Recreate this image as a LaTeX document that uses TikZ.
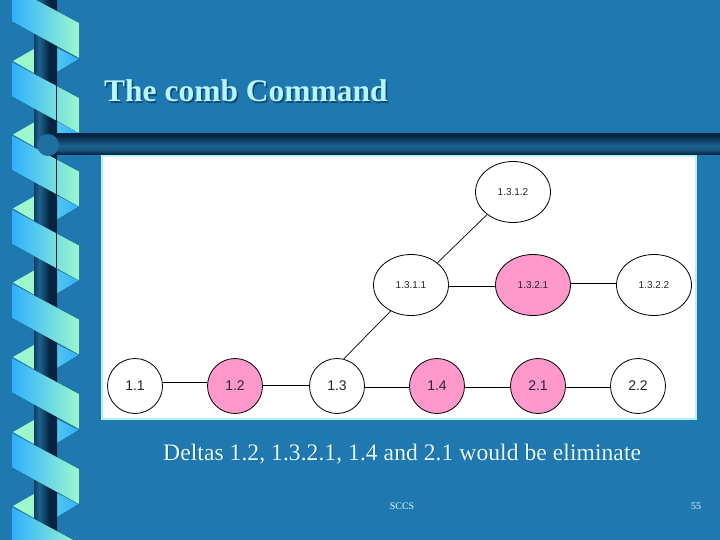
\documentclass[tikz,border=0pt]{standalone}
\usepackage{fontspec}
\setmainfont{Liberation Serif}
\setsansfont{Liberation Sans}
\usetikzlibrary{shapes.geometric}
\definecolor{bgblue}{HTML}{1F78B0}
\definecolor{bandblue}{HTML}{2FB0FF}
\definecolor{bandgreen}{HTML}{9CF8CC}
\definecolor{pinkn}{HTML}{FF99CC}
\definecolor{paleborder}{HTML}{B8F4EE}
\definecolor{coldark}{HTML}{062440}
\definecolor{colmid}{HTML}{1F6E9E}
\definecolor{txtpale}{HTML}{E6FBFF}
\definecolor{titlepale}{HTML}{B8F6FF}
\definecolor{shadowblue}{HTML}{0F4A70}
\pgfdeclareverticalshading{barshade}{100bp}{color(0bp)=(coldark);color(27bp)=(coldark);color(36bp)=(colmid!60!coldark);color(46bp)=(colmid!85!coldark);color(62bp)=(colmid!35!coldark);color(72bp)=(coldark);color(100bp)=(coldark)}
\pgfdeclarehorizontalshading{colshade}{100bp}{color(0bp)=(coldark);color(25bp)=(colmid!35!coldark);color(36bp)=(colmid!85!coldark);color(46bp)=(colmid!50!coldark);color(58bp)=(coldark);color(75bp)=(coldark);color(100bp)=(coldark)}
\tikzset{
  x=1pt,y=-1pt,
  smallnode/.style={ellipse,draw=black,line width=.8pt,minimum width=75pt,minimum height=61pt,inner sep=0pt,font=\sffamily\fontsize{10}{11}\selectfont,text=black!85},
  bignode/.style={circle,draw=black,line width=.8pt,minimum size=55pt,inner sep=0pt,font=\sffamily\fontsize{14}{15}\selectfont,text=black!85},
  pinkfill/.style={fill=pinkn},
  link/.style={draw=black,line width=.7pt},
  bandface/.style={left color=bandblue,right color=bandgreen},
  backface/.style={fill=bandgreen},
}
\newcommand{\coilunit}[1]{%
  \fill[backface] (13,{#1-1}) -- (34,{#1-13}) -- (34,{#1+11}) -- cycle;
  \fill[left color=bandblue!70!bandgreen,right color=bandblue] (57,{#1-14}) -- (79,{#1-3}) -- (57,{#1+10}) -- cycle;
}
\newcommand{\coilband}[1]{%
  \fill[bandface] (12,#1) -- (79,{#1+36}) -- (79,{#1+71}) -- (12,{#1+34.5}) -- cycle;
}
\begin{document}
\begin{tikzpicture}
\useasboundingbox (0,0) rectangle (720,540);
\fill[bgblue] (0,0) rectangle (720,540);
% back triangles
\foreach \yy in {-12,62,135.5,209.5,283.5,358,433,507}{\coilunit{\yy}}
% column
\fill[shading=colshade,shading angle=0] (34,-5) rectangle (57,545);
% bands
\foreach \yy in {-13,62,135.5,209.5,283.5,358,433,507}{\coilband{\yy}}
% thin line on the column
\draw[coldark,line width=.6pt] (56,85) -- (56,268);
% horizontal bar
\fill[shading=barshade] (57,134) rectangle (720,155);
\fill[colmid!85!bgblue] (48,145) circle[radius=11];
% panel
\fill[white,draw=paleborder,line width=2.5pt] (102,156) rectangle (696,419);
% title
\node[anchor=base west,inner sep=0pt,text=shadowblue,font=\bfseries\fontsize{31.5}{33}\selectfont] (titleshadow) at (105.5,103.5) {The comb Command};
\node[anchor=base west,inner sep=0pt,text=titlepale,font=\bfseries\fontsize{31.5}{33}\selectfont] (title) at (104,102) {The comb Command};
% nodes
\node[smallnode] (a) at (513,192) {1.3.1.2};
\node[smallnode] (b) at (411,285) {1.3.1.1};
\node[smallnode,pinkfill] (c) at (533,285) {1.3.2.1};
\node[smallnode] (d) at (654,285) {1.3.2.2};
\node[bignode] (n1) at (135,386) {1.1};
\node[bignode,pinkfill] (n2) at (235,386) {1.2};
\node[bignode] (n3) at (337,386) {1.3};
\node[bignode,pinkfill] (n4) at (437,386) {1.4};
\node[bignode,pinkfill] (n5) at (538,386) {2.1};
\node[bignode] (n6) at (638,386) {2.2};
% links
\draw[link] (n1.8) -- (n2.172);
\draw[link] (n2.2) -- (n3.178);
\draw[link] (n3.-2) -- (n4.182);
\draw[link] (n4.-2) -- (n5.182);
\draw[link] (n5.-2) -- (n6.182);
\draw[link] (n3.76) -- (b.232);
\draw[link] (b.40) -- (a.221);
\draw[link] (b.-2) -- (c.182);
\draw[link] (c.3) -- (d.177);
% texts
\node[anchor=base west,inner sep=0pt,text=shadowblue!60!bgblue,font=\fontsize{23.7}{25}\selectfont] (capshadow) at (163.8,460.8) {Deltas 1.2, 1.3.2.1, 1.4 and 2.1 would be eliminate};
\node[anchor=base west,inner sep=0pt,text=txtpale,font=\fontsize{23.7}{25}\selectfont] (cap) at (163,460) {Deltas 1.2, 1.3.2.1, 1.4 and 2.1 would be eliminate};
\node[inner sep=0pt,text=txtpale,font=\fontsize{10}{11}\selectfont] (sccs) at (402,506) {SCCS};
\node[inner sep=0pt,text=txtpale,font=\fontsize{10}{11}\selectfont] (pg) at (696,506) {55};
\end{tikzpicture}
\end{document}
